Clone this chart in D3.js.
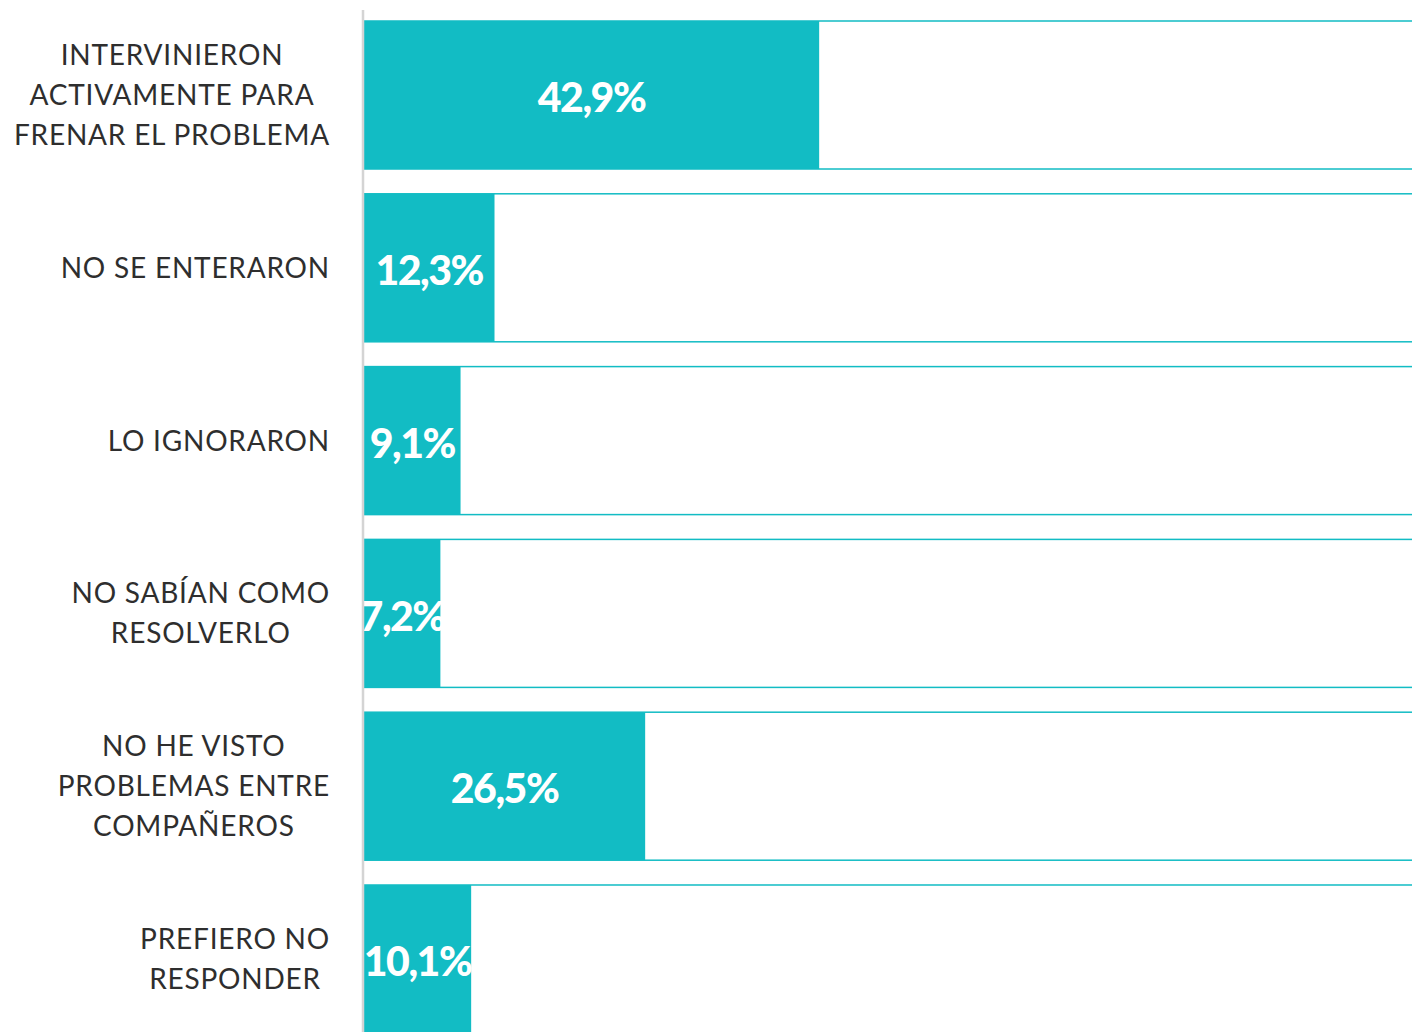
<!DOCTYPE html>
<html lang="es">
<head>
<meta charset="UTF-8">
<title>Respuesta ante problemas</title>
<script src="https://d3js.org/d3.v7.min.js"></script>
<style>
    body { margin: 0; background: #fff; }
    .label { font-family: "Lato", sans-serif; font-weight: 400; font-size: 28px; fill: #2e2e2e; letter-spacing: 0.8px; }
    .value { font-family: "Lato", sans-serif; font-weight: 900; font-size: 41px; fill: #fff; letter-spacing: -1.5px; }
</style>
</head>
<body>
<script>
    var width = 1412;
    var height = 1032;

    // categories (one array per line of text) and values
    var categories = [
        ["INTERVINIERON", "ACTIVAMENTE PARA", "FRENAR EL PROBLEMA"],
        ["NO SE ENTERARON"],
        ["LO IGNORARON"],
        ["NO SABÍAN COMO", "RESOLVERLO"],
        ["NO HE VISTO", "PROBLEMAS ENTRE", "COMPAÑEROS"],
        ["PREFIERO NO", "RESPONDER"]
    ];
    var values = [42.9, 12.3, 9.1, 7.2, 26.5, 10.1];
    var valueLabels = ["42,9%", "12,3%", "9,1%", "7,2%", "26,5%", "10,1%"];

    var teal = "#12bcc4";
    var axisX = 364;

    var svg = d3.select("body").append("svg")
        .attr("width", width)
        .attr("height", height);

    var x = d3.scaleLinear().domain([0, 100]).range([axisX, axisX + 1061]);
    var y = d3.scaleBand().domain(d3.range(values.length)).range([21, 1033]).paddingInner(0.1435).paddingOuter(0);

    // background box for each category (outline to 100%)
    svg.selectAll(".box")
        .data(values)
        .enter()
        .append("rect")
        .attr("class", "box")
        .attr("x", x(0))
        .attr("y", function (d, i) { return y(i); })
        .attr("width", x(100) - x(0))
        .attr("height", y.bandwidth())
        .attr("fill", "#fff")
        .attr("stroke", teal)
        .attr("stroke-width", 1.5);

    // filled bars
    svg.selectAll(".bar")
        .data(values)
        .enter()
        .append("rect")
        .attr("class", "bar")
        .attr("x", x(0))
        .attr("y", function (d, i) { return y(i); })
        .attr("width", function (d) { return x(d) - x(0); })
        .attr("height", y.bandwidth())
        .attr("fill", teal);

    // value labels centered in the filled part
    svg.selectAll(".value")
        .data(values)
        .enter()
        .append("text")
        .attr("class", "value")
        .attr("x", function (d) { return (x(0) + x(d)) / 2; })
        .attr("y", function (d, i) { return y(i) + y.bandwidth() / 2; })
        .attr("dy", "0.42em")
        .attr("text-anchor", "middle")
        .text(function (d, i) { return valueLabels[i]; });

    // axis line
    svg.append("line")
        .attr("x1", axisX - 1).attr("x2", axisX - 1)
        .attr("y1", 10).attr("y2", height)
        .attr("stroke", "#d4d4d4")
        .attr("stroke-width", 2.5);

    // category labels: centred block, widest line ending at 330
    var lineH = 40;
    categories.forEach(function (lines, i) {
        var t = svg.append("text").attr("class", "label").attr("text-anchor", "middle");
        var cy = y(i) + y.bandwidth() / 2;
        var top = cy - (lines.length - 1) * lineH / 2;
        lines.forEach(function (l, j) {
            t.append("tspan").attr("x", 0).attr("y", top + j * lineH).attr("dy", "0.36em").text(l);
        });
        var maxW = d3.max(t.selectAll("tspan").nodes(), function (n) { return n.getComputedTextLength(); });
        t.selectAll("tspan").attr("x", 330 - maxW / 2);
    });
</script>
</body>
</html>
